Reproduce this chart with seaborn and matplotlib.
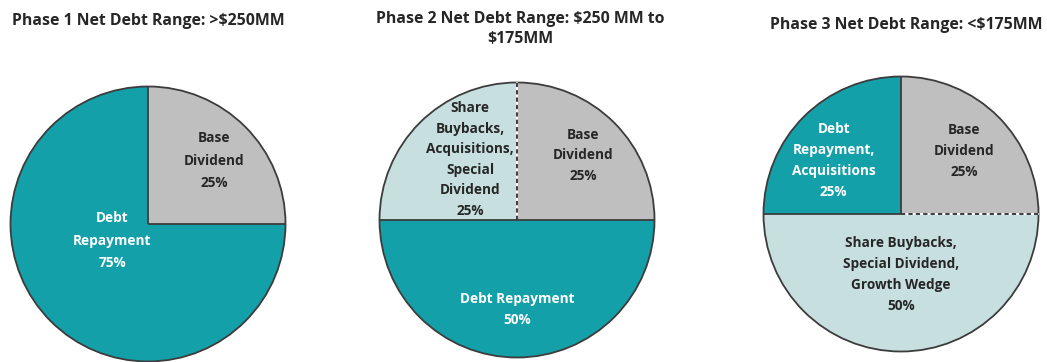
import numpy as np
import matplotlib
matplotlib.use("Agg")
import matplotlib.pyplot as plt
import seaborn as sns
from matplotlib.patches import Circle

sns.set_theme(style="white")
plt.rcParams['font.family'] = ['Open Sans', 'DejaVu Sans']

# ---- data ----
titles = [
    "Phase 1 Net Debt Range: >$250MM",
    "Phase 2 Net Debt Range: $250 MM to\n$175MM",
    "Phase 3 Net Debt Range: <$175MM",
]
phase1_labels = ["Base\nDividend", "Debt\nRepayment"]
phase1_values = [25, 75]
phase2_labels = ["Base\nDividend", "Debt Repayment", "Share\nBuybacks,\nAcquisitions,\nSpecial\nDividend"]
phase2_values = [25, 50, 25]
phase3_labels = ["Base\nDividend", "Share Buybacks,\nSpecial Dividend,\nGrowth Wedge", "Debt\nRepayment,\nAcquisitions"]
phase3_values = [25, 50, 25]

TEAL = "#14A0A9"
GREY = "#BFBFBF"
LIGHT = "#C7DFDF"
EDGE = "#3C3C3C"

phase1_colors = [GREY, TEAL]
phase2_colors = [GREY, TEAL, LIGHT]
phase3_colors = [GREY, LIGHT, TEAL]

# which boundary (index of boundary after slice i) is dashed
dashed_boundaries = [[], [2], [0]]
# label anchor positions (fraction of radius), layout only
label_pos = [
    [(0.48, 0.46), (-0.26, -0.12)],
    [(0.48, 0.47), (0.0, -0.65), (-0.34, 0.44)],
    [(0.46, 0.46), (0.0, -0.44), (-0.49, 0.39)],
]
label_spacing = [1.75, 1.6, 1.65]

W, H = 1047, 362
fig = plt.figure(figsize=(W / 100, H / 100), dpi=100)
fig.patch.set_facecolor("white")

centers = [(148, 224), (517, 220), (901, 214)]
R = 137.5

all_labels = [phase1_labels, phase2_labels, phase3_labels]
all_values = [phase1_values, phase2_values, phase3_values]
all_colors = [phase1_colors, phase2_colors, phase3_colors]

for k in range(3):
    cx, cy = centers[k]
    ax = fig.add_axes([(cx - R) / W, 1 - (cy + R) / H, 2 * R / W, 2 * R / H])
    vals = all_values[k]
    wedges, _ = ax.pie(vals, colors=all_colors[k], startangle=90, counterclock=False,
                       radius=1, wedgeprops=dict(linewidth=0), normalize=True)
    ax.set_xlim(-1, 1)
    ax.set_ylim(-1, 1)
    ax.set_axis_off()
    for w in wedges:
        w.set_clip_on(False)
    # boundaries
    cum = np.cumsum([0] + list(vals)) / sum(vals)
    angles = 90 - 360 * cum[:-1]
    for i, a in enumerate(angles):
        x, y = np.cos(np.radians(a)), np.sin(np.radians(a))
        bidx = (i - 1) % len(vals)
        if bidx in dashed_boundaries[k]:
            ax.plot([0, x], [0, y], color="white", lw=1.4, clip_on=False, solid_capstyle="butt")
            ax.plot([0, x], [0, y], color=EDGE, lw=1.4, ls=(0, (2.2, 1.6)), clip_on=False)
        else:
            ax.plot([0, x], [0, y], color=EDGE, lw=1.3, clip_on=False, solid_capstyle="butt")
    ax.add_patch(Circle((0, 0), 1, fill=False, ec=EDGE, lw=1.3, clip_on=False))
    for i, lab in enumerate(all_labels[k]):
        col = "white" if all_colors[k][i] == TEAL else "#262626"
        px, py = label_pos[k][i]
        ax.text(px, py, f"{lab}\n{vals[i]}%", ha="center", va="center", color=col,
                fontsize=9.8, fontweight="bold", linespacing=label_spacing[k])

title_pos = [(148, 21), (520, 29), (906, 25)]
for t, (tx, ty) in zip(titles, title_pos):
    fig.text(tx / W, 1 - ty / H, t, ha="center", va="center", fontsize=11.4,
             fontweight="bold", color="#262626", linespacing=1.4)

fig.savefig("out.png", dpi=100, facecolor="white")
